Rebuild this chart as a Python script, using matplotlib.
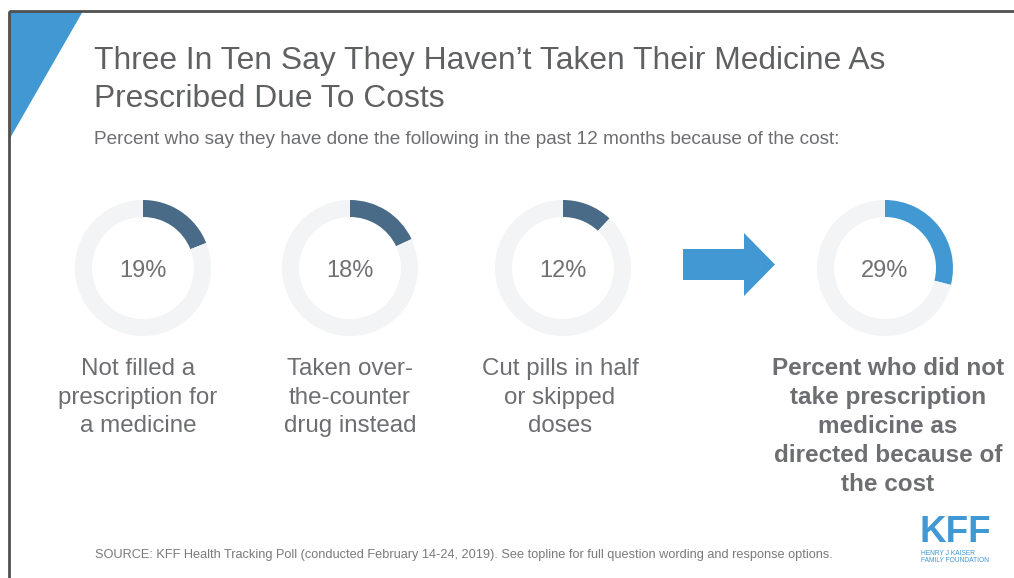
import matplotlib.pyplot as plt
from matplotlib.patches import Polygon, FancyArrow

plt.rcParams['font.family'] = ['Liberation Sans', 'DejaVu Sans']

title = "Three In Ten Say They Haven\u2019t Taken Their Medicine As\nPrescribed Due To Costs"
subtitle = "Percent who say they have done the following in the past 12 months because of the cost:"
source = ("SOURCE: KFF Health Tracking Poll (conducted February 14-24, 2019). "
          "See topline for full question wording and response options.")

# the three cost-related actions plus the combined total
actions = ["Not filled a\nprescription for\na medicine",
           "Taken over-\nthe-counter\ndrug instead",
           "Cut pills in half\nor skipped\ndoses"]
action_pct = [19, 18, 12]
total_label = "Percent who did not\ntake prescription\nmedicine as\ndirected because of\nthe cost"
total_pct = 29

W, H = 1014, 578
slate = '#4a6b87'
blue = '#4198d3'
ring = '#f2f4f6'
grey = '#6d6e71'

fig = plt.figure(figsize=(W / 100, H / 100), dpi=100)
ax = fig.add_axes([0, 0, 1, 1])
ax.set_xlim(0, W)
ax.set_ylim(H, 0)
ax.axis('off')

# slide frame and corner accent
ax.plot([9, W], [11, 11], color='#505050', lw=2, solid_capstyle='butt')
ax.plot([9, 9], [11, H], color='#505050', lw=2, solid_capstyle='butt')
ax.add_patch(Polygon([[9, 11], [83, 11], [9, 140]], closed=True, color=blue, lw=0))

# multi-line texts are anchored on the baseline of their last line
ax.text(94, 107, title, fontsize=22.9, color='#5f6062', va='baseline',
        linespacing=1.34)
ax.text(94, 144, subtitle, fontsize=13.7, color=grey, va='baseline')


def donut(cx, cy, pct, color):
    r = 68
    dax = fig.add_axes([(cx - r) / W, 1 - (cy + r) / H, 2 * r / W, 2 * r / H])
    dax.pie([pct, 100 - pct], colors=[color, ring], startangle=90,
            counterclock=False, radius=1,
            wedgeprops=dict(width=0.25, linewidth=0))
    dax.set_xlim(-1, 1)
    dax.set_ylim(-1, 1)
    dax.text(0, -0.04, f"{pct}%", ha='center', va='center', fontsize=17,
             color='#707173')
    return dax


centers = [143, 350, 563]
label_x = [138, 350, 560]
for cx, lx, pct, lab in zip(centers, label_x, action_pct, actions):
    donut(cx, 268, pct, slate)
    ax.text(lx, 432, lab, ha='center', va='baseline', fontsize=17.4,
            color=grey, linespacing=1.38)

donut(885, 268, total_pct, blue)
ax.text(888, 491, total_label, ha='center', va='baseline', fontsize=17.5,
        fontweight='bold', color=grey, linespacing=1.34)

ax.add_patch(FancyArrow(683, 264.5, 92, 0, width=31, head_width=63,
                        head_length=31, length_includes_head=True,
                        color=blue, lw=0))

ax.text(95, 558, source, fontsize=9.15, color='#7a7a7a', va='baseline')

# KFF logo
ax.text(955, 550, "KFF", fontsize=26.5, fontweight='bold', color=blue,
        ha='center', va='bottom')
ax.text(921, 555, "HENRY J KAISER", fontsize=4.8, color=blue, va='baseline')
ax.text(921, 562, "FAMILY FOUNDATION", fontsize=4.8, color=blue, va='baseline')

fig.savefig('out.png', dpi=100)
